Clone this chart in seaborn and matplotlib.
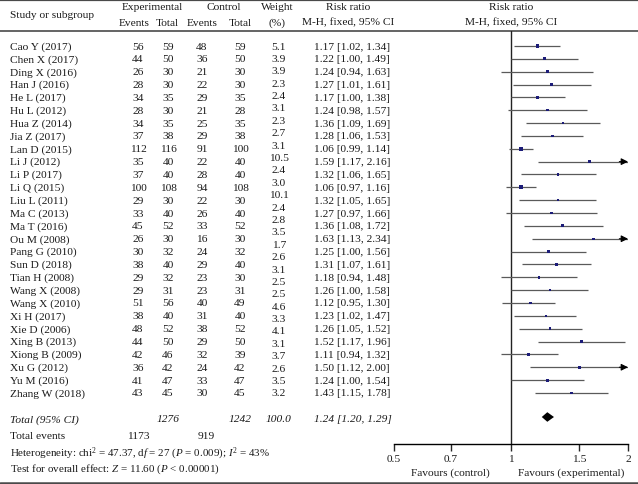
import seaborn as sns
from matplotlib import pyplot as plt
from matplotlib.ticker import FixedLocator, FixedFormatter, NullLocator
import pandas as pd

## DATA
studies = ["Cao Y (2017)", "Chen X (2017)", "Ding X (2016)", "Han J (2016)", "He L (2017)",
           "Hu L (2012)", "Hua Z (2014)", "Jia Z (2017)", "Lan D (2015)", "Li J (2012)",
           "Li P (2017)", "Li Q (2015)", "Liu L (2011)", "Ma C (2013)", "Ma T (2016)",
           "Ou M (2008)", "Pang G (2010)", "Sun D (2018)", "Tian H (2008)", "Wang X (2008)",
           "Wang X (2010)", "Xi H (2017)", "Xie D (2006)", "Xing B (2013)", "Xiong B (2009)",
           "Xu G (2012)", "Yu M (2016)", "Zhang W (2018)"]
exp_events = [56, 44, 26, 28, 34, 28, 34, 37, 112, 35, 37, 100, 29, 33, 45, 26, 30, 38, 29, 29,
              51, 38, 48, 44, 42, 36, 41, 43]
exp_total = [59, 50, 30, 30, 35, 30, 35, 38, 116, 40, 40, 108, 30, 40, 52, 30, 32, 40, 32, 31,
             56, 40, 52, 50, 46, 42, 47, 45]
ctrl_events = [48, 36, 21, 22, 29, 21, 25, 29, 91, 22, 28, 94, 22, 26, 33, 16, 24, 29, 23, 23,
               40, 31, 38, 29, 32, 24, 33, 30]
ctrl_total = [59, 50, 30, 30, 35, 28, 35, 38, 100, 40, 40, 108, 30, 40, 52, 30, 32, 40, 30, 31,
              49, 40, 52, 50, 39, 42, 47, 45]
# weight column as printed (29 values, printed evenly over the 28 rows)
weights = ["5.1", "3.9", "3.9", "2.3", "2.4", "3.1", "2.3", "2.7", "3.1", "10.5", "2.4", "3.0",
           "10.1", "2.4", "2.8", "3.5", "1.7", "2.6", "3.1", "2.5", "2.5", "4.6", "3.3", "4.1",
           "3.1", "3.7", "2.6", "3.5", "3.2"]
rr = [1.17, 1.22, 1.24, 1.27, 1.17, 1.24, 1.36, 1.28, 1.06, 1.59, 1.32, 1.06, 1.32, 1.27, 1.36,
      1.63, 1.25, 1.31, 1.18, 1.26, 1.12, 1.23, 1.26, 1.52, 1.11, 1.50, 1.24, 1.43]
ci_low = [1.02, 1.00, 0.94, 1.01, 1.00, 0.98, 1.09, 1.06, 0.99, 1.17, 1.06, 0.97, 1.05, 0.97, 1.08,
          1.13, 1.00, 1.07, 0.94, 1.00, 0.95, 1.02, 1.05, 1.17, 0.94, 1.12, 1.00, 1.15]
ci_high = [1.34, 1.49, 1.63, 1.61, 1.38, 1.57, 1.69, 1.53, 1.14, 2.16, 1.65, 1.16, 1.65, 1.66, 1.72,
           2.34, 1.56, 1.61, 1.48, 1.58, 1.30, 1.47, 1.52, 1.96, 1.32, 2.00, 1.54, 1.78]
total_rr, total_low, total_high = 1.24, 1.20, 1.29
total_exp_n, total_ctrl_n = 1276, 1242
total_exp_ev, total_ctrl_ev = 1173, 919
x_ticks = [0.5, 0.7, 1, 1.5, 2]
x_ticklabels = ["0.5", "0.7", "1", "1.5", "2"]

## STYLE
sns.set_style('white')
plt.rcParams['font.family'] = ['Liberation Serif', 'DejaVu Serif']
plt.rcParams['mathtext.fontset'] = 'custom'
plt.rcParams['mathtext.rm'] = 'Liberation Serif'
plt.rcParams['mathtext.it'] = 'Liberation Serif:italic'
FS = 8.2
W, H = 638, 485
ROW0, STEP = 47, 12.85

def row_y(i):
    return ROW0 + STEP * i

df = pd.DataFrame({"study": studies, "rr": rr, "lo": ci_low, "hi": ci_high,
                   "n": [a + b for a, b in zip(exp_total, ctrl_total)]})
df["y"] = [row_y(i) for i in range(len(df))]
df["hi_clip"] = df["hi"].clip(upper=x_ticks[-1])

fig = plt.figure(figsize=(W / 100, H / 100), dpi=100)

## table layer in pixel coordinates
tab = fig.add_axes([0, 0, 1, 1])
tab.set_xlim(0, W)
tab.set_ylim(H, 0)
tab.axis('off')
rule = '#4a4a4a'
tab.axhline(1.2, color=rule, lw=1.6)
tab.axhline(32, color=rule, lw=1.2)
tab.axhline(483.5, color=rule, lw=1.8)

col = dict(exp_ev=138, exp_n=168, ctrl_ev=202, ctrl_n=240, weight=279, rr=314, forest=511)

def txt(x, y, s, ha='center', **kw):
    tab.text(x, y, s, ha=ha, va='center', fontsize=kw.pop('fontsize', FS), color='#1a1a1a', **kw)

# header
txt(10, 16, "Study or subgroup", ha='left')
txt(152, 8, "Experimental")
txt(col['exp_ev'] - 4, 23, "Events")
txt(col['exp_n'] - 1, 23, "Total")
txt(224, 8, "Control")
txt(col['ctrl_ev'], 23, "Events")
txt(col['ctrl_n'], 23, "Total")
txt(277, 8, "Weight")
txt(277, 23, "(%)")
txt(348, 8, "Risk ratio")
txt(348, 23, "M-H, fixed, 95% CI")
txt(col['forest'], 8, "Risk ratio")
txt(col['forest'], 23, "M-H, fixed, 95% CI")

# study rows
for i, s in enumerate(studies):
    y = row_y(i)
    txt(10, y, s, ha='left')
    txt(col['exp_ev'], y, str(exp_events[i]))
    txt(col['exp_n'], y, str(exp_total[i]))
    txt(col['ctrl_ev'], y, str(ctrl_events[i]))
    txt(col['ctrl_n'], y, str(ctrl_total[i]))
    txt(col['rr'], y, f"{rr[i]:.2f} [{ci_low[i]:.2f}, {ci_high[i]:.2f}]", ha='left')
n_rows = len(studies)
for k, w in enumerate(weights):
    txt(col['weight'], row_y(k * (n_rows - 1) / (len(weights) - 1)), w)

# totals
y_tot = 420
txt(10, y_tot, "Total (95% CI)", ha='left', style='italic')
txt(col['exp_n'], y_tot, str(total_exp_n), style='italic')
txt(col['ctrl_n'], y_tot, str(total_ctrl_n), style='italic')
txt(col['weight'], y_tot, "100.0", style='italic')
txt(col['rr'], y_tot, f"{total_rr:.2f} [{total_low:.2f}, {total_high:.2f}]", ha='left', style='italic')
txt(10, 437, "Total events", ha='left')
txt(col['exp_ev'], 437, str(total_exp_ev))
txt(col['ctrl_ev'] + 4, 437, str(total_ctrl_ev))
txt(10, 454, r"Heterogeneity: chi$^2$ = 47.37, d$f$ = 27 ($P$ = 0.009); $I^2$ = 43%",
    ha='left', fontsize=7.9)
txt(10, 469, r"Test for overall effect: $Z$ = 11.60 ($P$ < 0.00001)", ha='left', fontsize=7.9)
txt(450, 473, "Favours (control)")
txt(571, 473, "Favours (experimental)")

## forest plot
x0, x1, y_top, y_axis = 394, 628, 32, 445
ax = fig.add_axes([x0 / W, 1 - y_axis / H, (x1 - x0) / W, (y_axis - y_top) / H])
ax.patch.set_alpha(0)
ax.set_xscale('log')
ax.set_xlim(x_ticks[0], x_ticks[-1])
ax.set_ylim(y_axis, y_top)
ax.axvline(1, color='#222222', lw=1.0)
ax.hlines(df["y"], df["lo"], df["hi_clip"], color='#5a5a5a', lw=0.9)
sns.scatterplot(data=df, x="rr", y="y", size="n", sizes=(3, 8), marker='s',
                color='#1c1c78', linewidth=0, legend=False, ax=ax, zorder=3)
for _, r in df[df["hi"] >= x_ticks[-1]].iterrows():
    ax.annotate('', xy=(x_ticks[-1], r["y"]), xytext=(1.9, r["y"]),
                arrowprops=dict(arrowstyle='-|>', color='black', lw=0.8,
                                mutation_scale=10, shrinkA=0, shrinkB=0),
                annotation_clip=False)
h = 4.8
ax.fill([total_low, total_rr, total_high, total_rr],
        [y_tot - 2, y_tot - 2 - h, y_tot - 2, y_tot - 2 + h], color='black', lw=0)
for side in ['top', 'left', 'right']:
    ax.spines[side].set_visible(False)
ax.spines['bottom'].set_color('black')
ax.spines['bottom'].set_linewidth(1.0)
ax.xaxis.set_major_locator(FixedLocator(x_ticks))
ax.xaxis.set_major_formatter(FixedFormatter(x_ticklabels))
ax.xaxis.set_minor_locator(NullLocator())
ax.set_yticks([])
ax.tick_params(axis='x', bottom=True, direction='out', length=5, width=1.0, labelsize=FS,
               pad=2, labelcolor='#1a1a1a')
ax.set_xlabel('')
ax.set_ylabel('')

fig.savefig("out.png", dpi=100)
